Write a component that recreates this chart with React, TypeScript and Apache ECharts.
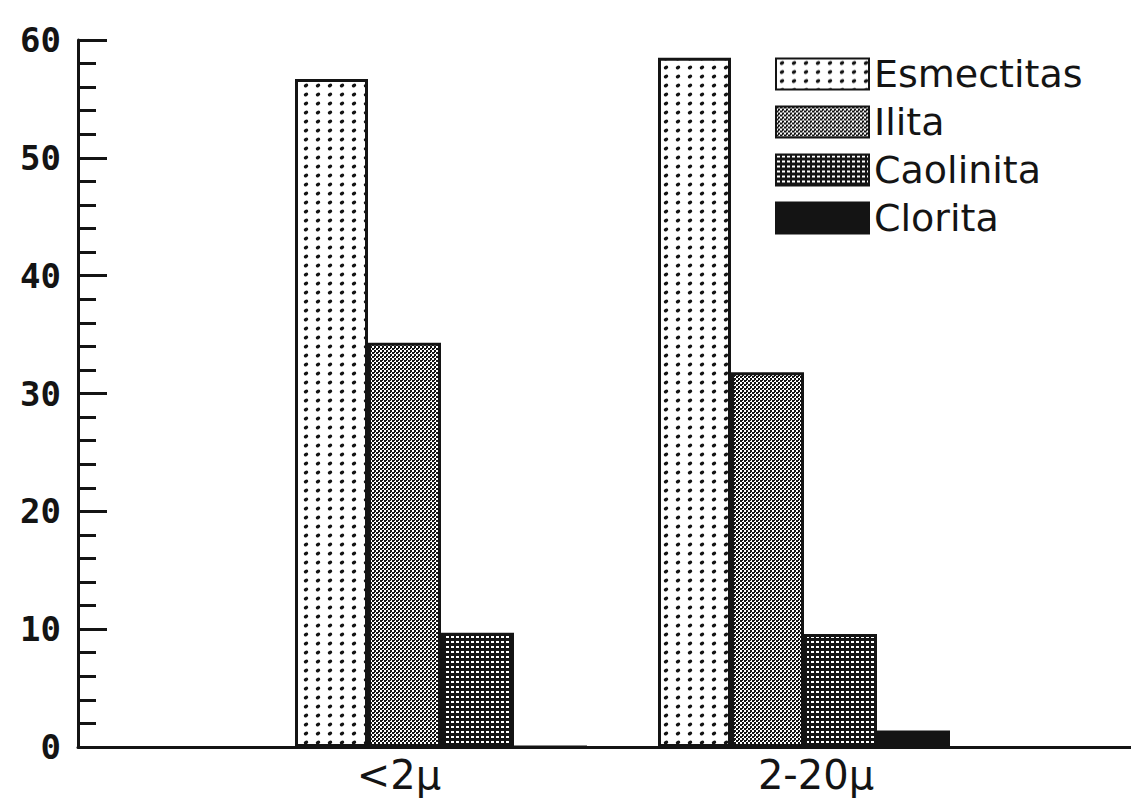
import React, { useEffect, useRef } from "react";
import * as echarts from "echarts";

const categories = ["<2μ", "2-20μ"];
const seriesNames = ["Esmectitas", "Ilita", "Caolinita", "Clorita"];
const esmectitas = [56.7, 58.5];
const ilita = [34.3, 31.8];
const caolinita = [9.7, 9.6];
const clorita = [0, 1.4];
const yTicks = [0, 10, 20, 30, 40, 50, 60];

const INK = "#141414";

function makePattern(kind: string) {
  const c = document.createElement("canvas");
  let w = 4, h = 4;
  if (kind === "dots") { w = 12; h = 9; }
  if (kind === "stipple") { w = 4; h = 4; }
  if (kind === "grid") { w = 5; h = 5; }
  c.width = w; c.height = h;
  const ctx = c.getContext("2d")!;
  if (kind === "dots") {
    ctx.fillStyle = "#ffffff";
    ctx.fillRect(0, 0, w, h);
    ctx.fillStyle = INK;
    ctx.beginPath();
    ctx.ellipse(6, 4.5, 2.4, 1.7, -0.6, 0, Math.PI * 2);
    ctx.fill();
  } else if (kind === "stipple") {
    ctx.fillStyle = "#ffffff";
    ctx.fillRect(0, 0, w, h);
    ctx.fillStyle = INK;
    ctx.fillRect(0, 0, 2, 2);
    ctx.fillRect(2, 2, 2, 2);
    ctx.fillRect(2, 0, 1, 1);
  } else if (kind === "grid") {
    ctx.fillStyle = INK;
    ctx.fillRect(0, 0, w, h);
    ctx.fillStyle = "#ffffff";
    ctx.fillRect(1, 1, 3, 2);
  }
  return { image: c.toDataURL(), repeat: "repeat", imageWidth: w, imageHeight: h } as any;
}

export default function App() {
  const ref = useRef<HTMLDivElement>(null);
  useEffect(() => {
    if (!ref.current) return;
    const chart = echarts.init(ref.current, null, { renderer: "svg" });
    const fills = [makePattern("dots"), makePattern("stipple"), makePattern("grid"), INK];
    const values = [esmectitas, ilita, caolinita, clorita];
    chart.setOption({
      animation: false,
      backgroundColor: "#ffffff",
      grid: [
        { left: 259.5, right: 145.5, top: 40, bottom: 63, containLabel: false },
        { left: 78, right: 0, top: 40, bottom: 63, containLabel: false },
      ],
      legend: {
        orient: "vertical",
        left: 775,
        top: 55,
        padding: 0,
        itemWidth: 93,
        itemHeight: 31,
        itemGap: 10,
        icon: "rect",
        data: seriesNames,
        textStyle: { fontFamily: "DejaVu Sans", fontSize: 38, lineHeight: 31, color: INK },
      },
      xAxis: [
        {
          type: "category",
          gridIndex: 0,
          data: categories,
          axisLine: { show: false },
          axisTick: { show: false },
          axisLabel: {
            margin: 8,
            formatter: (v: string, i: number) => (i === 0 ? `{a|${v}}` : `{b|${v}}`),
            rich: {
              a: { fontFamily: "DejaVu Sans", fontSize: 40, color: INK, padding: [0, 84, 0, 0] },
              b: { fontFamily: "DejaVu Sans", fontSize: 40, color: INK, padding: [0, 0, 0, 24] },
            },
          },
        },
        {
          type: "value",
          gridIndex: 1,
          min: 0,
          max: 1,
          axisLine: { show: true, onZero: false, lineStyle: { color: INK, width: 3 } },
          axisTick: { show: false },
          axisLabel: { show: false },
          splitLine: { show: false },
        },
      ],
      yAxis: [
        { type: "value", gridIndex: 0, min: 0, max: 60, show: false },
        {
          type: "value",
          gridIndex: 1,
          min: 0,
          max: 60,
          interval: 10,
          axisLine: { show: true, lineStyle: { color: INK, width: 3 } },
          axisTick: { show: true, inside: true, length: 29, lineStyle: { color: INK, width: 3 } },
          minorTick: { show: true, splitNumber: 5, length: 18, lineStyle: { color: INK, width: 3 } },
          splitLine: { show: false },
          axisLabel: {
            margin: 17,
            fontFamily: "DejaVu Sans Mono",
            fontWeight: "bold",
            fontSize: 34,
            color: INK,
            padding: [8, 0, 0, 0],
            formatter: (v: number) => (yTicks.includes(v) ? String(v) : ""),
          },
        },
      ],
      series: seriesNames.map((name, k) => ({
        name,
        type: "bar",
        xAxisIndex: 0,
        yAxisIndex: 0,
        barWidth: 73,
        barGap: "0%",
        data: values[k],
        itemStyle: { color: fills[k], borderColor: INK, borderWidth: 3 },
        emphasis: { disabled: true },
      })),
    });
    return () => chart.dispose();
  }, []);
  return (
    <div
      ref={ref}
      style={{ position: "fixed", left: 0, top: 0, width: 1131, height: 810, background: "#fff" }}
    />
  );
}
